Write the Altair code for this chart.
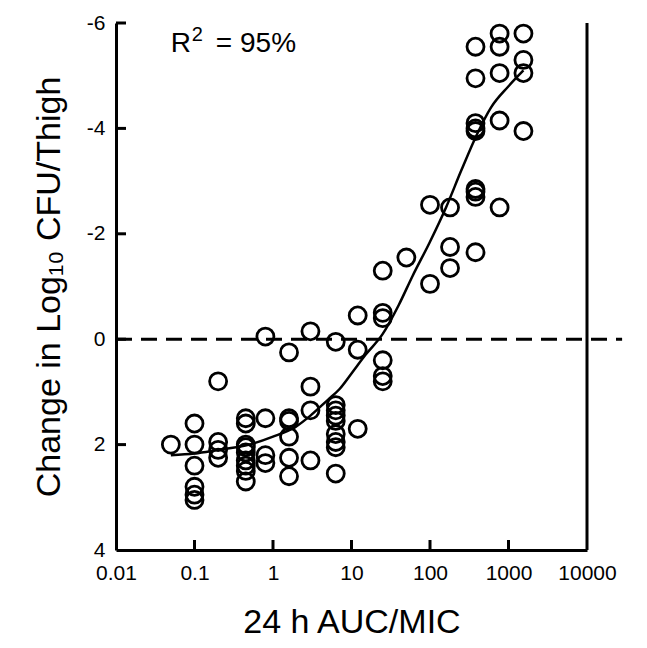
import altair as alt
import pandas as pd

# ---- data ----
auc_x = (
    [0.05]
    + [0.1] * 6
    + [0.2] * 4
    + [0.45] * 9
    + [0.8] * 4
    + [1.6] * 6
    + [3.0] * 4
    + [6.3] * 9
    + [12] * 3
    + [25] * 6
    + [50]
    + [100] * 2
    + [180] * 3
    + [380] * 9
    + [770] * 5
    + [1550] * 4
)
change_y = (
    [2.0]
    + [1.6, 2.0, 2.4, 2.8, 2.95, 3.05]
    + [0.8, 1.95, 2.1, 2.25]
    + [1.5, 1.6, 2.0, 2.05, 2.15, 2.3, 2.4, 2.5, 2.7]
    + [-0.05, 1.5, 2.2, 2.35]
    + [0.25, 1.5, 1.55, 1.85, 2.25, 2.6]
    + [-0.15, 0.9, 1.35, 2.3]
    + [0.05, 1.25, 1.35, 1.45, 1.55, 1.8, 1.95, 2.05, 2.55]
    + [-0.45, 0.2, 1.7]
    + [-1.3, -0.5, -0.4, 0.4, 0.7, 0.8]
    + [-1.55]
    + [-2.55, -1.05]
    + [-2.5, -1.75, -1.35]
    + [-5.55, -4.95, -4.1, -4.0, -3.95, -2.85, -2.8, -2.7, -1.65]
    + [-5.8, -5.55, -5.05, -4.15, -2.5]
    + [-5.8, -5.3, -5.05, -3.95]
)

curve_x = [0.05, 0.1, 0.2, 0.5, 1, 2, 3, 5, 7, 10, 15, 25, 40, 60, 100, 160, 250, 400, 600, 1000, 1550]
curve_y = [2.2, 2.17, 2.1, 2.0, 1.85, 1.65, 1.45, 1.15, 0.95, 0.65, 0.3, -0.1, -0.65, -1.2, -1.85, -2.5, -3.2, -3.9, -4.4, -4.8, -5.1]

x_axis_values = [0.01, 0.1, 1, 10, 100, 1000, 10000]
y_axis_values = [-6, -4, -2, 0, 2, 4]
x_inner_ticks = [0.1, 1, 10, 100, 1000]
y_inner_ticks = [-6, -4, -2, 0, 2]

r2_parts = ["R", "2", "= 95%"]
x_title = "24 h AUC/MIC"
y_title = "Change in Log₁₀ CFU/Thigh"

FONT = "Liberation Sans"

xscale = alt.Scale(type="log", domain=[0.01, 10000])
yscale = alt.Scale(domain=[-6, 4], reverse=True, nice=False, zero=False)

x_axis = alt.Axis(
    values=x_axis_values,
    labelExpr="datum.value + ''",
    title=x_title,
    titlePadding=22,
    labelPadding=12,
    labelFlush=False,
    labelOverlap=False,
)
y_axis = alt.Axis(
    values=y_axis_values,
    labelExpr="datum.value + ''",
    title=y_title,
    titlePadding=20,
    labelPadding=11,
    labelFlush=False,
    labelOverlap=False,
)

X = alt.X("x:Q", scale=xscale, axis=x_axis)
Y = alt.Y("y:Q", scale=yscale, axis=y_axis)

points_df = pd.DataFrame({"x": auc_x, "y": change_y})
curve_df = pd.DataFrame({"x": curve_x, "y": curve_y})

points = alt.Chart(points_df).mark_point(
    shape="circle", size=290, strokeWidth=2.8, color="black", filled=False, opacity=1
).encode(x=X, y=Y)

curve = alt.Chart(curve_df).mark_line(
    color="black", strokeWidth=2.5, interpolate="monotone"
).encode(x=X, y=Y)

zero_df = pd.DataFrame({"x": [0.01], "x2": [28000], "y": [0]})
zero_line = alt.Chart(zero_df).mark_rule(
    color="black", strokeWidth=3, strokeDash=[16, 9]
).encode(x=X, x2="x2:Q", y=Y)

right_df = pd.DataFrame({"x": [10000]})
right_line = alt.Chart(right_df).mark_rule(color="black", strokeWidth=3).encode(x=X)

xt_df = pd.DataFrame({"x": x_inner_ticks, "y": [4] * len(x_inner_ticks)})
x_ticks = alt.Chart(xt_df).mark_tick(
    orient="vertical", size=10, thickness=3, color="black", yOffset=-5, opacity=1
).encode(x=X, y=Y)

yt_df = pd.DataFrame({"y": y_inner_ticks, "x": [0.01] * len(y_inner_ticks)})
y_ticks = alt.Chart(yt_df).mark_tick(
    orient="horizontal", size=10, thickness=3, color="black", xOffset=5, opacity=1
).encode(x=X, y=Y)

r2_df = pd.DataFrame({"x": [0.05], "y": [-5.6]})
r2_main = alt.Chart(r2_df).mark_text(
    align="left", baseline="middle", fontSize=28, font=FONT, color="black", text=r2_parts[0]
).encode(x=X, y=Y)
r2_sup = alt.Chart(r2_df).mark_text(
    align="left", baseline="middle", fontSize=20, font=FONT, color="black", text=r2_parts[1],
    dx=21, dy=-9
).encode(x=X, y=Y)
r2_rest = alt.Chart(r2_df).mark_text(
    align="left", baseline="middle", fontSize=28, font=FONT, color="black", text=r2_parts[2],
    dx=45
).encode(x=X, y=Y)

chart = alt.layer(
    points, zero_line, right_line, x_ticks, y_ticks, curve, r2_main, r2_sup, r2_rest
).properties(
    width=471,
    height=527,
    autosize=alt.AutoSizeParams(type="none"),
    padding={"left": 108, "top": 15, "right": 52, "bottom": 90},
).configure_view(
    stroke=None
).configure_axis(
    domainColor="black",
    domainWidth=3,
    ticks=False,
    grid=False,
    labelFont=FONT,
    labelFontSize=21,
    labelColor="black",
    titleFont=FONT,
    titleFontSize=34,
    titleFontWeight="normal",
    titleColor="black",
)

chart.save("out.html", embed_options={"renderer": "svg", "actions": False})
